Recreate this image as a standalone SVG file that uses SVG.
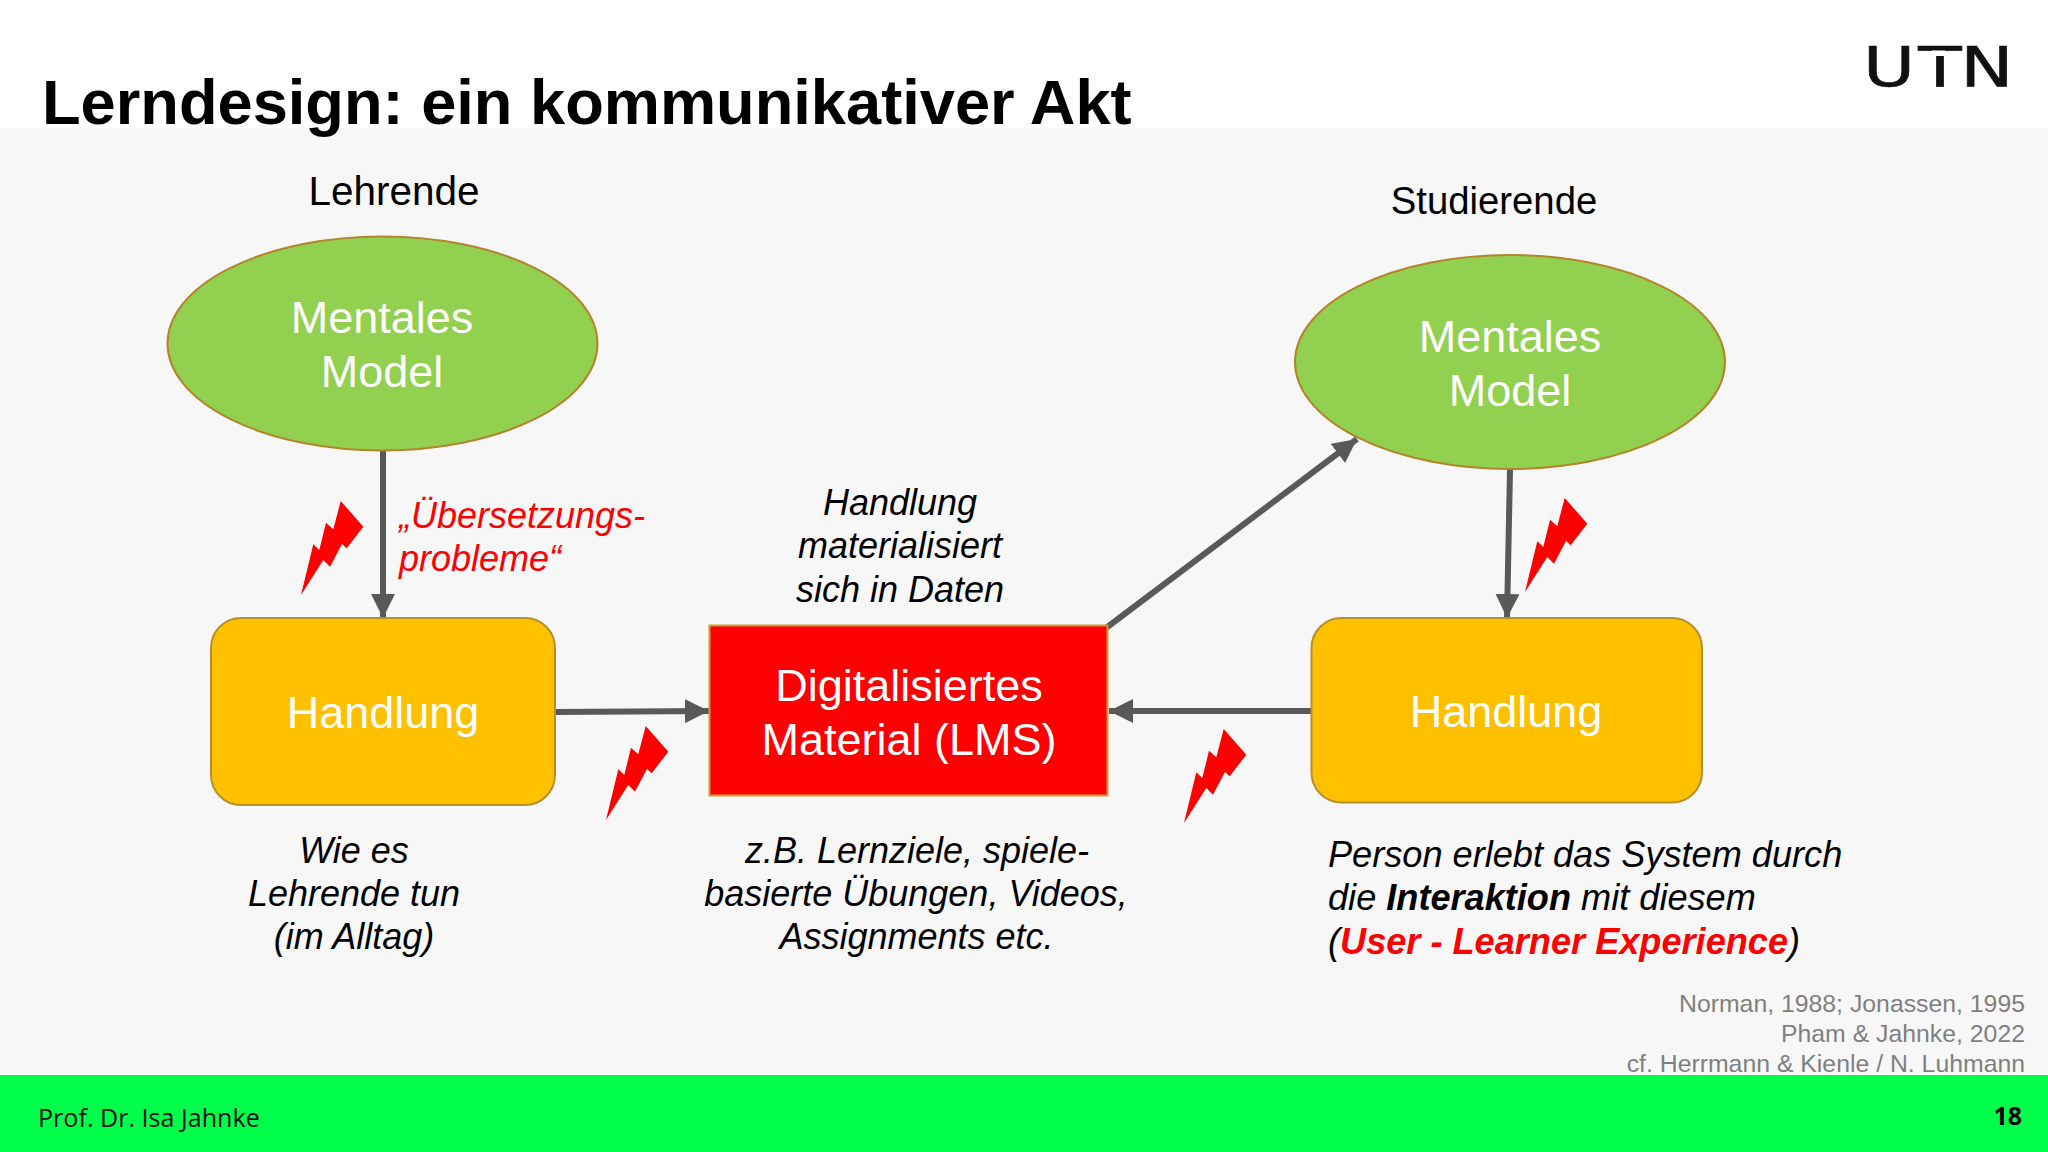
<svg xmlns="http://www.w3.org/2000/svg" xmlns:xlink="http://www.w3.org/1999/xlink" width="2048" height="1152" viewBox="0 0 2048 1152">
<style>
text{font-family:"Liberation Sans",Arial,sans-serif}
.node{fill:#fff;font-size:45px;text-anchor:middle}
.ell{fill:#92d050;stroke:#b5842a;stroke-width:2}
.act{fill:#ffc000;stroke:#b5902a;stroke-width:2}
.head{font-size:40.500px;text-anchor:middle;fill:#000}
.it{font-size:36px;font-style:italic;fill:#000}
.mid{text-anchor:middle}
.red{fill:#f00}
.cite{font-size:24.800px;fill:#7f7f7f;text-anchor:end}
.conn{stroke:#595959;stroke-width:6;fill:none;marker-end:url(#arrow)}
</style>
<defs>
<marker id="arrow" markerUnits="userSpaceOnUse" markerWidth="24" markerHeight="24" refX="20" refY="10" orient="auto" viewBox="0 0 20 20"><path d="M0 0L20 10L0 20z" fill="#595959"/></marker>
<polygon id="bolt" points="340.7,501 363.3,526.7 346.7,548.3 342,544 330,566.7 323.3,560 301,595 313.3,544.3 319.3,550 326,522.7 333.3,529.3" fill="#f00"/>
</defs>
<rect width="2048" height="1152" fill="#fff"/>
<rect id="band" y="128" width="2048" height="947" fill="#f7f7f8"/>
<text id="title" x="42" y="124" font-size="63.200" font-weight="700" fill="#000">Lerndesign: ein kommunikativer Akt</text>
<g id="logo"><text transform="translate(1863 86) scale(1.27 1)" font-size="56" fill="#111" stroke="#111" stroke-width="0.6" style="font-family:'DejaVu Sans',sans-serif" x="0 43.500 76.500" y="0">UTN</text><rect x="1932" y="50.500" width="13" height="5.500" fill="#fff"/></g>
<text class="head" x="394" y="205">Lehrende</text>
<text class="head" x="1494" y="214" style="font-size:38.300px">Studierende</text>
<g id="connectors">
<path class="conn" d="M383 451V618"/>
<path class="conn" d="M1510 470L1507 618"/>
<path class="conn" d="M556 712L709 711"/>
<path class="conn" d="M1311 711H1109"/>
<path class="conn" d="M1106 628L1357 439"/>
</g>
<g id="mental-left"><ellipse class="ell" cx="382.500" cy="343.500" rx="215" ry="107"/><text class="node" x="382" y="333">Mentales</text><text class="node" x="382" y="387">Model</text></g>
<g id="mental-right"><ellipse class="ell" cx="1510" cy="362" rx="215" ry="107"/><text class="node" x="1510" y="352">Mentales</text><text class="node" x="1510" y="406">Model</text></g>
<g id="action-left"><rect class="act" x="211" y="618" width="344" height="187" rx="30"/><text class="node" x="383" y="728">Handlung</text></g>
<g id="action-right"><rect class="act" x="1311.500" y="618" width="390.500" height="184.500" rx="30"/><text class="node" x="1506" y="727">Handlung</text></g>
<g id="material"><rect x="709.500" y="625.500" width="398" height="170" fill="#f00" stroke="#c9a02a" stroke-width="2"/><text class="node" x="909" y="701">Digitalisiertes</text><text class="node" x="909" y="755">Material (LMS)</text></g>
<g id="bolts">
<use xlink:href="#bolt" href="#bolt"/>
<use xlink:href="#bolt" href="#bolt" x="305" y="225"/>
<use xlink:href="#bolt" href="#bolt" x="883" y="228"/>
<use xlink:href="#bolt" href="#bolt" x="1224" y="-3"/>
</g>
<text class="it red" x="399" y="528">„Übersetzungs-</text>
<text class="it red" x="399" y="571">probleme“</text>
<text class="it mid" x="900" y="515">Handlung</text>
<text class="it mid" x="900" y="558">materialisiert</text>
<text class="it mid" x="900" y="602">sich in Daten</text>
<text class="it mid" x="354" y="862.500">Wie es</text>
<text class="it mid" x="354" y="905.500">Lehrende tun</text>
<text class="it mid" x="354" y="949">(im Alltag)</text>
<text class="it mid" x="917" y="862.500">z.B. Lernziele, spiele-</text>
<text class="it mid" x="916" y="905.500">basierte Übungen, Videos,</text>
<text class="it mid" x="916.500" y="949">Assignments etc.</text>
<text class="it" x="1328" y="867" style="font-size:36.150px">Person erlebt das System durch</text>
<text class="it" x="1328" y="910" style="font-size:36.150px">die <tspan font-weight="700">Interaktion</tspan> mit diesem</text>
<text class="it" x="1328" y="953.500" style="font-size:36.150px">(<tspan font-weight="700" fill="#f00">User - Learner Experience</tspan>)</text>
<text class="cite" x="2025" y="1012">Norman, 1988; Jonassen, 1995</text>
<text class="cite" x="2025" y="1042">Pham &amp; Jahnke, 2022</text>
<text class="cite" x="2025" y="1072">cf. Herrmann &amp; Kienle / N. Luhmann</text>
<rect id="footer" y="1075" width="2048" height="77" fill="#00ff4b"/>
<text x="38" y="1127" font-size="25.100" fill="#111" style="font-family:'Open Sans',sans-serif">Prof. Dr. Isa Jahnke</text>
<text x="2022" y="1125" font-size="25" font-weight="700" fill="#000" text-anchor="end" style="font-family:'Open Sans',sans-serif">18</text>
</svg>
